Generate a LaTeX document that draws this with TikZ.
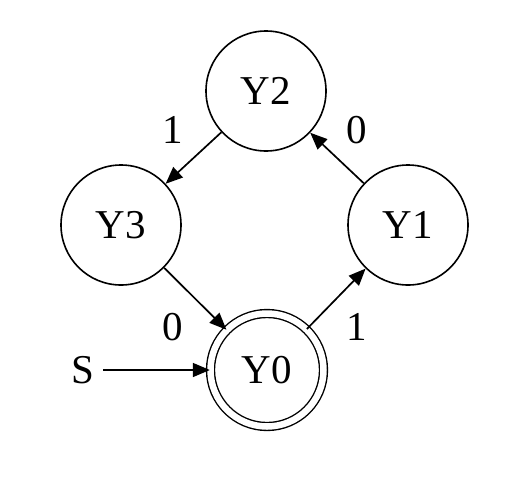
\documentclass[tikz,border=0pt]{standalone}
\usepackage{fontspec}
\setmainfont{Liberation Serif}
\usetikzlibrary{arrows.meta}
\begin{document}
\begin{tikzpicture}[x=1pt,y=-1pt,
  state/.style={circle,draw,line width=1.6pt,minimum size=120pt,inner sep=0pt,font=\fontsize{41}{48}\selectfont},
  accstate/.style={state,double,double distance=6.5pt,line width=1.4pt,minimum size=113pt},
  lbl/.style={font=\fontsize{41}{48}\selectfont,inner sep=0pt},
  edge/.style={line width=1.7pt,-{Triangle[length=17pt,width=14pt]}}]
\useasboundingbox (0,0) rectangle (518,482);
\node[state] (Y2) at (266,91) {Y2};
\node[state] (Y3) at (121,225) {Y3};
\node[state] (Y1) at (408,225) {Y1};
\node[accstate] (Y0) at (267,370) {Y0};
\node[lbl] (S) at (83,370) {S};
\draw[edge] (S) ++(20,0) coordinate (s0) (s0) -- (Y0.west);
\draw[edge] (Y2) -- (Y3);
\draw[edge] (Y3) -- (Y0);
\draw[edge] (Y0) -- (Y1);
\draw[edge] (Y1) -- (Y2);
\node[lbl] (l1) at (173,130) {1};
\node[lbl] (l2) at (357,130) {0};
\node[lbl] (l3) at (173,327) {0};
\node[lbl] (l4) at (357,327) {1};
\end{tikzpicture}
\end{document}
